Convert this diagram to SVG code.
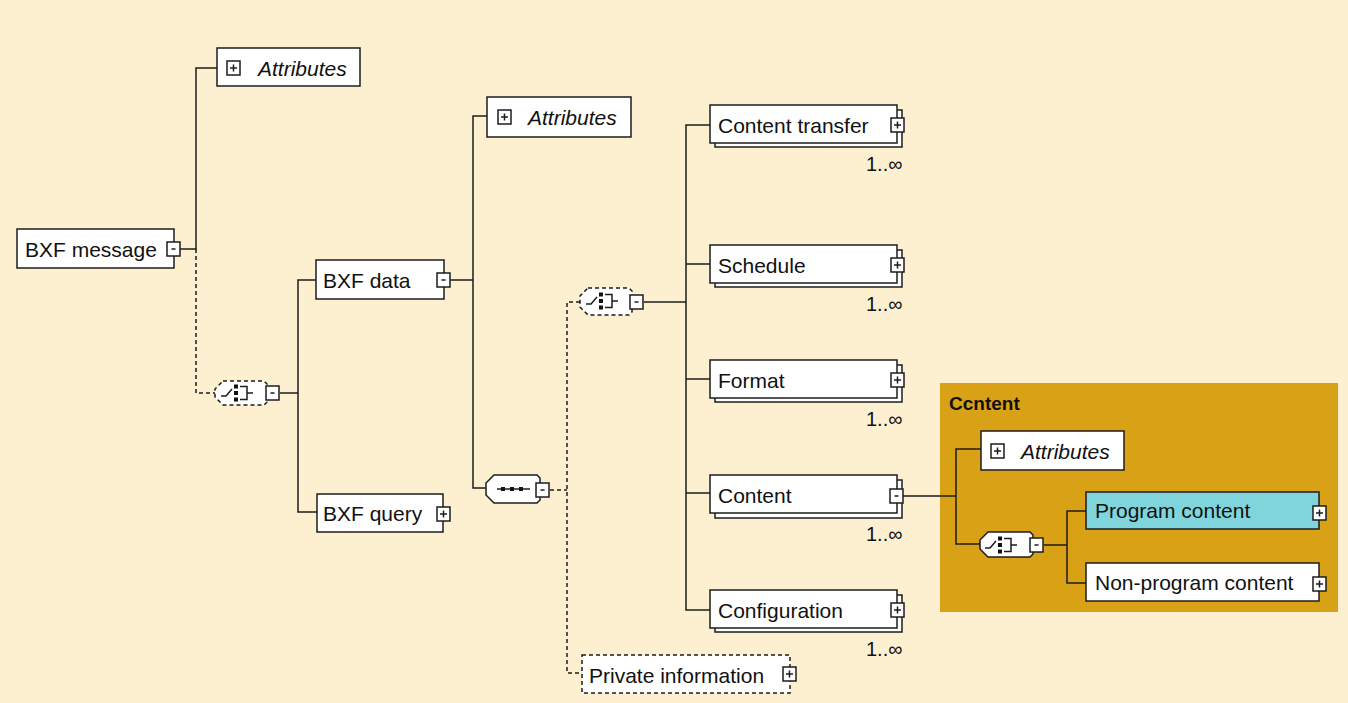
<svg xmlns="http://www.w3.org/2000/svg" width="1348" height="703" viewBox="0 0 1348 703">
<style>
.box{fill:#ffffff;stroke:#1c1c1c;stroke-width:1.5}
.dbox{fill:#ffffff;stroke:#1c1c1c;stroke-width:1.5;stroke-dasharray:4 3}
.ln{fill:none;stroke:#1c1c1c;stroke-width:1.5}
.dl{fill:none;stroke:#1c1c1c;stroke-width:1.5;stroke-dasharray:4 3}
.ic{fill:none;stroke:#1c1c1c;stroke-width:1.5}
.t{font-family:"Liberation Sans",Arial,sans-serif;font-size:21px;fill:#111}
.it{font-family:"Liberation Sans",Arial,sans-serif;font-size:21px;font-style:italic;fill:#111}
.m{font-family:"Liberation Sans",Arial,sans-serif;font-size:20px;fill:#111}
.ttl{font-family:"Liberation Sans",Arial,sans-serif;font-size:19px;font-weight:bold;fill:#111}
.dot{fill:#111}
</style>
<defs>
<g id="plus"><rect x="0" y="0" width="13" height="14" class="box"/><path d="M3 7H10M6.5 3.5V10.5" class="ic"/></g>
<g id="minus"><rect x="0" y="0" width="13" height="14" class="box"/><path d="M4.5 7H8.5" class="ic"/></g>
<g id="choiceicon"><path d="M0 3H5L11 -4" class="ic"/><rect x="13" y="-8.5" width="4" height="4" class="dot"/><rect x="13" y="-2" width="4" height="4" class="dot"/><rect x="13" y="4.5" width="4" height="4" class="dot"/><path d="M19 -6.5H26V6.5H19M26 0H32" class="ic"/></g>
</defs>
<rect x="0" y="0" width="1348" height="703" fill="#fcf0d1"/>
<rect x="940" y="383" width="398" height="229" fill="#d9a115"/>

<g id="connectors">
<path d="M180 249H196V68H217" class="ln"/>
<path d="M196 249V393H215" class="dl"/>
<path d="M280 393H298M316 280H298V512H317" class="ln"/>
<path d="M450 280H473M487 116H473V488H486" class="ln"/>
<path d="M550 490H567M580 302H567V673H582" class="dl"/>
<path d="M644 302H686M710 125H686V610H710M686 264H710M686 379H710M686 493H710" class="ln"/>
<path d="M903 496H956M981 449H956V544H980" class="ln"/>
<path d="M1044 545H1067M1086 511H1067V583H1086" class="ln"/>
</g>

<g id="bxf-message">
<rect x="17" y="229" width="157" height="39" class="box"/>
<text x="25" y="257" class="t">BXF message</text>
<use href="#minus" x="167" y="242"/>
</g>

<g id="attributes-1">
<rect x="217" y="48" width="143" height="38" class="box"/>
<use href="#plus" x="227" y="61"/>
<text x="258" y="76" class="it">Attributes</text>
</g>

<g id="choice-1">
<path d="M223 381H264L267 384V402L264 405H223L215 397V389Z" class="dbox"/>
<use href="#choiceicon" x="221" y="393"/>
<use href="#minus" x="266" y="386"/>
</g>

<g id="bxf-data">
<rect x="316" y="260" width="128" height="39" class="box"/>
<text x="323" y="288" class="t">BXF data</text>
<use href="#minus" x="437" y="273"/>
</g>

<g id="bxf-query">
<rect x="317" y="494" width="126" height="38" class="box"/>
<text x="323" y="521" class="t">BXF query</text>
<use href="#plus" x="437" y="507"/>
</g>

<g id="attributes-2">
<rect x="487" y="97" width="144" height="40" class="box"/>
<use href="#plus" x="498" y="110"/>
<text x="528" y="125" class="it">Attributes</text>
</g>

<g id="sequence">
<path d="M494 475H537L540 478V500L537 503H494L486 495V483Z" class="box"/>
<path d="M497 489H530" class="ic"/>
<rect x="501" y="487" width="4" height="4" class="dot"/>
<rect x="510" y="487" width="4" height="4" class="dot"/>
<rect x="519" y="487" width="4" height="4" class="dot"/>
<use href="#minus" x="536" y="483"/>
</g>

<g id="choice-2">
<path d="M588 288H629L632 291V312L629 315H588L580 307V296Z" class="dbox"/>
<use href="#choiceicon" x="586" y="301"/>
<use href="#minus" x="630" y="295"/>
</g>

<g id="content-transfer">
<rect x="715" y="110" width="187" height="37" class="box"/>
<rect x="710" y="105" width="187" height="38" class="box"/>
<text x="718" y="133" class="t">Content transfer</text>
<use href="#plus" x="891" y="118"/>
<text x="866" y="171" class="m">1..∞</text>
</g>

<g id="schedule">
<rect x="715" y="250" width="187" height="37" class="box"/>
<rect x="710" y="245" width="187" height="38" class="box"/>
<text x="718" y="273" class="t">Schedule</text>
<use href="#plus" x="891" y="258"/>
<text x="866" y="311" class="m">1..∞</text>
</g>

<g id="format">
<rect x="715" y="365" width="187" height="37" class="box"/>
<rect x="710" y="360" width="187" height="38" class="box"/>
<text x="718" y="388" class="t">Format</text>
<use href="#plus" x="891" y="373"/>
<text x="866" y="426" class="m">1..∞</text>
</g>

<g id="content">
<rect x="715" y="480" width="187" height="38" class="box"/>
<rect x="710" y="475" width="187" height="38" class="box"/>
<text x="718" y="503" class="t">Content</text>
<use href="#minus" x="890" y="489"/>
<text x="866" y="541" class="m">1..∞</text>
</g>

<g id="configuration">
<rect x="715" y="595" width="187" height="37" class="box"/>
<rect x="710" y="590" width="187" height="38" class="box"/>
<text x="718" y="618" class="t">Configuration</text>
<use href="#plus" x="891" y="603"/>
<text x="866" y="656" class="m">1..∞</text>
</g>

<g id="private-information">
<rect x="582" y="655" width="208" height="38" class="dbox"/>
<text x="589" y="683" class="t">Private information</text>
<use href="#plus" x="783" y="667"/>
</g>

<g id="content-panel">
<text x="949" y="410" class="ttl">Ccntent</text>
</g>

<g id="attributes-3">
<rect x="981" y="431" width="143" height="39" class="box"/>
<use href="#plus" x="991" y="444"/>
<text x="1021" y="459" class="it">Attributes</text>
</g>

<g id="choice-3">
<path d="M988 532H1030L1033 535V554L1030 557H988L980 549V540Z" class="box"/>
<use href="#choiceicon" x="985" y="545"/>
<use href="#minus" x="1030" y="538"/>
</g>

<g id="program-content">
<rect x="1086" y="492" width="233" height="37" fill="#80d5dc" stroke="#1c1c1c" stroke-width="1.5"/>
<text x="1095" y="518" class="t">Program content</text>
<use href="#plus" x="1313" y="506"/>
</g>

<g id="non-program-content">
<rect x="1086" y="563" width="233" height="38" class="box"/>
<text x="1095" y="590" class="t">Non-program content</text>
<use href="#plus" x="1313" y="577"/>
</g>
</svg>
